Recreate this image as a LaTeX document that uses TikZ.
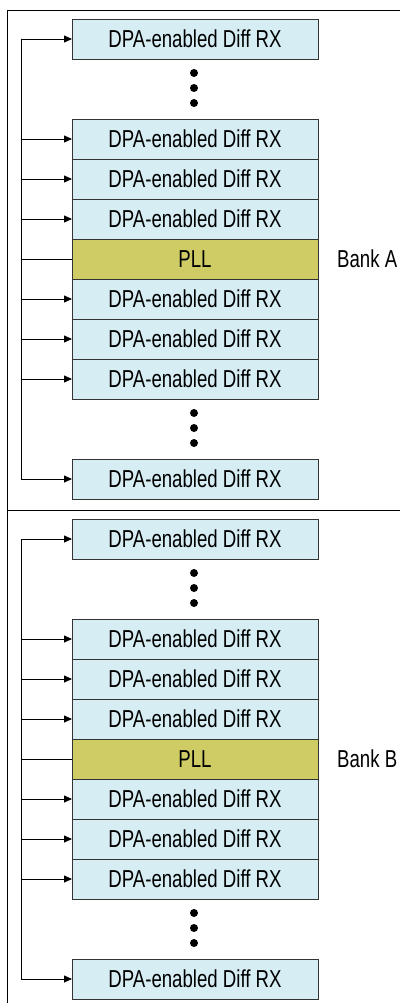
\documentclass[tikz,border=0pt]{standalone}
\usepackage{fontspec}
\setmainfont{Liberation Sans}[FakeStretch=0.76]
\usetikzlibrary{positioning,arrows.meta}
\definecolor{rxblue}{HTML}{D5EDF3}
\definecolor{pllgreen}{HTML}{CFCC66}
\definecolor{edgegray}{HTML}{333333}
\tikzset{
  rxbox/.style={draw=edgegray, line width=0.9pt, fill=rxblue, minimum width=246pt, minimum height=40pt, inner sep=0pt, outer sep=0pt, font=\fontsize{24.5}{28}\selectfont},
  pllbox/.style={rxbox, fill=pllgreen},
  dotmark/.style={circle, fill=black, inner sep=0pt, minimum size=8pt},
  bankframe/.style={draw=black, line width=0.9pt},
  banklabel/.style={inner sep=0pt, font=\fontsize{24.5}{28}\selectfont},
  feed/.style={draw=black, line width=0.8pt, -{Triangle[length=8pt,width=7pt]}},
  tap/.style={draw=black, line width=0.8pt}
}
\begin{document}
\begin{tikzpicture}[x=1pt,y=1pt]
    \useasboundingbox (0,0) rectangle (399,-1003);
    \foreach \b/\s in {A/0,B/500}{
    \begin{scope}[yshift=-\s pt]
    \path[bankframe] (7,-10) rectangle (402,-510);
    \node[rxbox] (top\b) at (195,-39) {DPA-enabled Diff RX};
    \node[rxbox] (rx1\b) at (195,-139) {DPA-enabled Diff RX};
    \node[rxbox, below=0pt of rx1\b] (rx2\b) {DPA-enabled Diff RX};
    \node[rxbox, below=0pt of rx2\b] (rx3\b) {DPA-enabled Diff RX};
    \node[pllbox, below=0pt of rx3\b] (pll\b) {PLL};
    \node[rxbox, below=0pt of pll\b] (rx4\b) {DPA-enabled Diff RX};
    \node[rxbox, below=0pt of rx4\b] (rx5\b) {DPA-enabled Diff RX};
    \node[rxbox, below=0pt of rx5\b] (rx6\b) {DPA-enabled Diff RX};
    \node[rxbox] (bot\b) at (195,-479) {DPA-enabled Diff RX};
    \node[banklabel, anchor=west, right=19pt of pll\b] (label\b) {Bank \b};
    \foreach \y in {73,88,103,413,428,443}
      \node[dotmark] (dot\b\y) at (194,-\y) {};
    \coordinate (trunk\b) at (21,-39);
    \foreach \n in {top,rx1,rx2,rx3,rx4,rx5,rx6,bot}
      \path[feed] (trunk\b) |- (\n\b.west);
    \path[tap] (trunk\b) |- (pll\b.west);
    \end{scope}
    }
\end{tikzpicture}
\end{document}
